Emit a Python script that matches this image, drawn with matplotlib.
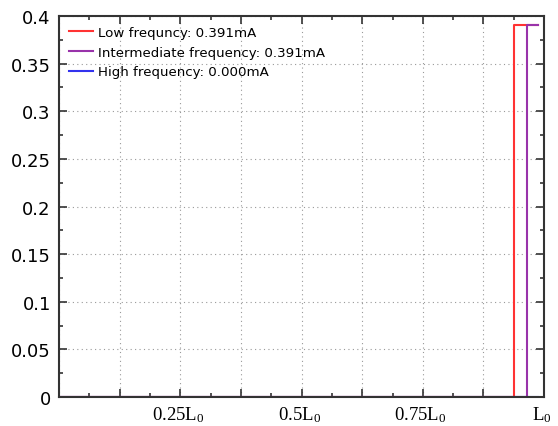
import numpy as np
import matplotlib.pyplot as plt
from matplotlib.ticker import MultipleLocator, FuncFormatter

plt.rcParams['font.family'] = 'DejaVu Sans'
plt.rcParams['mathtext.fontset'] = 'stix'

# step profiles along the line (fraction of L0) -> current in mA
low_x = [0.0, 0.9375, 0.9375, 0.988]
low_y = [0.0, 0.0, 0.391, 0.391]
mid_x = [0.0, 0.965, 0.965, 0.988]
mid_y = [0.0, 0.0, 0.391, 0.391]
high_x = [0.0, 0.988]
high_y = [0.0, 0.0]

labels = ['Low frequncy: 0.391mA',
          'Intermediate frequency: 0.391mA',
          'High frequency: 0.000mA']
xtick_pos = [0.25, 0.5, 0.75, 1.0]
xtick_lab = ['0.25L$\\mathregular{_0}$', '0.5L$\\mathregular{_0}$',
             '0.75L$\\mathregular{_0}$', 'L$\\mathregular{_0}$']
ytick_pos = [0, 0.05, 0.1, 0.15, 0.2, 0.25, 0.3, 0.35, 0.4]

fig = plt.figure(figsize=(5.58, 4.27), dpi=100)
ax = fig.add_axes([0.106, 0.068, 0.869, 0.892])

ax.plot(low_x, low_y, color='#ff3333', lw=1.5, label=labels[0])
ax.plot(mid_x, mid_y, color='#9933aa', lw=1.5, label=labels[1])
ax.plot(high_x, high_y, color='#3333ee', lw=1.5, label=labels[2])

ax.set_xlim(0, 1)
ax.set_ylim(0, 0.4)

ax.xaxis.set_major_locator(MultipleLocator(0.125))
ax.xaxis.set_minor_locator(MultipleLocator(0.0625))
ax.set_yticks(ytick_pos)
ax.yaxis.set_minor_locator(MultipleLocator(0.025))
ax.xaxis.set_major_formatter(FuncFormatter(lambda v, p: ''))
ax.yaxis.set_major_formatter(FuncFormatter(lambda v, p: '0' if abs(v) < 1e-9 else ('%.2f' % v).rstrip('0')))
ax.tick_params(axis='both', which='both', direction='in', top=True, right=True,
               width=1.2, color='#333333')
ax.tick_params(which='major', length=6, labelsize=13)
ax.tick_params(which='minor', length=3)
ax.tick_params(axis='y', pad=6)

for xp, lab in zip(xtick_pos, xtick_lab):
    ax.text(xp - 0.005, -0.008, lab, transform=ax.transData, ha='center', va='top',
            fontsize=13.5, family='Liberation Serif')

ax.grid(True, which='major', linestyle=(0, (1, 3)), color='#999999', lw=0.8)
for s in ax.spines.values():
    s.set_linewidth(1.5)
    s.set_color('#333333')

ax.legend(loc='upper left', frameon=False, fontsize=9.6, handlelength=1.8,
          borderaxespad=0.35, labelspacing=0.5, handletextpad=0.4)

fig.savefig('out.png', dpi=100)
